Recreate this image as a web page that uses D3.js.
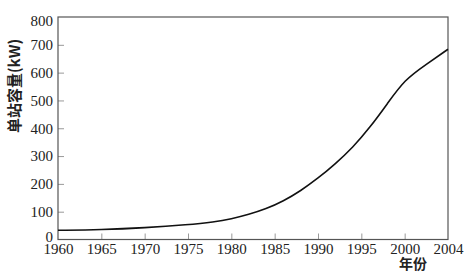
<!DOCTYPE html>
<html>
<head>
<meta charset="utf-8">
<script src="https://cdn.jsdelivr.net/npm/d3@7"></script>
<style>
  body { margin: 0; background: #fff; }
  svg { display: block; }
</style>
</head>
<body>
<div id="chart"></div>
<script>
// data
var years = [1960, 1965, 1970, 1975, 1978, 1980, 1982, 1984, 1986, 1988, 1990, 1992, 1994, 1996, 1998, 2000, 2002, 2004];
var capacity = [33, 35, 42, 53, 63, 74, 90, 110, 138, 175, 220, 272, 330, 403, 488, 575, 630, 684];
var xTicks = [1960, 1965, 1970, 1975, 1980, 1985, 1990, 1995, 2000, 2004];
var yTicks = [0, 100, 200, 300, 400, 500, 600, 700, 800];

var width = 469, height = 272;
var plotL = 58, plotR = 448, plotT = 17, plotB = 239.5;

var svg = d3.select("#chart").append("svg")
    .attr("width", width)
    .attr("height", height);

// ticks are spaced evenly, the last step is only 4 years
var step = (plotR - plotL) / (xTicks.length - 1);
var x = d3.scaleLinear()
    .domain(xTicks)
    .range(xTicks.map(function(d, i) { return plotL + i * step; }));

var y = d3.scaleLinear()
    .domain([0, 800])
    .range([plotB, plotT]);

var numFont = "'Liberation Serif', 'DejaVu Serif', serif";

// x axis, ticks pointing inward
var xAxis = svg.append("g")
    .attr("transform", "translate(0," + plotB + ")")
    .call(d3.axisTop(x).tickValues(xTicks).tickSize(6).tickFormat(d3.format("d")));
xAxis.select(".domain").remove();
xAxis.selectAll(".tick line").attr("stroke", "#999");
xAxis.selectAll(".tick text")
    .attr("y", 14)
    .attr("dy", 0)
    .style("font-family", numFont)
    .style("font-size", "15px")
    .attr("fill", "#222");
xAxis.selectAll(".tick").filter(function(d) { return d == 1960 || d == 2004; }).select("line").remove();

// y axis
var yAxis = svg.append("g")
    .attr("transform", "translate(" + plotL + ",0)")
    .call(d3.axisRight(y).tickValues(yTicks).tickSize(6));
yAxis.select(".domain").remove();
yAxis.selectAll(".tick line").attr("stroke", "#999");
yAxis.selectAll(".tick").filter(function(d) { return d == 0 || d == 800; }).select("line").remove();
yAxis.selectAll(".tick text")
    .attr("x", -5)
    .attr("text-anchor", "end")
    .style("font-family", numFont)
    .style("font-size", "15px")
    .attr("fill", "#222");
yAxis.selectAll(".tick").filter(function(d) { return d == 800; }).select("text").attr("dy", "0.55em");
yAxis.selectAll(".tick").filter(function(d) { return d == 0; }).select("text").attr("dy", "0.1em");

// frame
svg.append("rect")
    .attr("x", plotL)
    .attr("y", plotT)
    .attr("width", plotR - plotL)
    .attr("height", plotB - plotT)
    .attr("fill", "none")
    .attr("stroke", "#555")
    .attr("stroke-width", 1.2);

// curve
var line = d3.line()
    .x(function(d, i) { return x(years[i]); })
    .y(function(d) { return y(d); })
    .curve(d3.curveBasis);

svg.append("path")
    .datum(capacity)
    .attr("d", line)
    .attr("fill", "none")
    .attr("stroke", "#111")
    .attr("stroke-width", 1.6);

// axis titles
svg.append("text")
    .attr("transform", "translate(20,86) rotate(-90)")
    .attr("text-anchor", "middle")
    .style("font-family", "'Noto Sans CJK SC', sans-serif")
    .style("font-size", "15px")
    .style("font-weight", "bold")
    .attr("fill", "#222")
    .text("单站容量(kW)");

svg.append("text")
    .attr("x", 413)
    .attr("y", 269)
    .attr("text-anchor", "middle")
    .style("font-family", "'Noto Sans CJK SC', sans-serif")
    .style("font-size", "14px")
    .style("font-weight", "bold")
    .attr("fill", "#222")
    .text("年份");
</script>
</body>
</html>
